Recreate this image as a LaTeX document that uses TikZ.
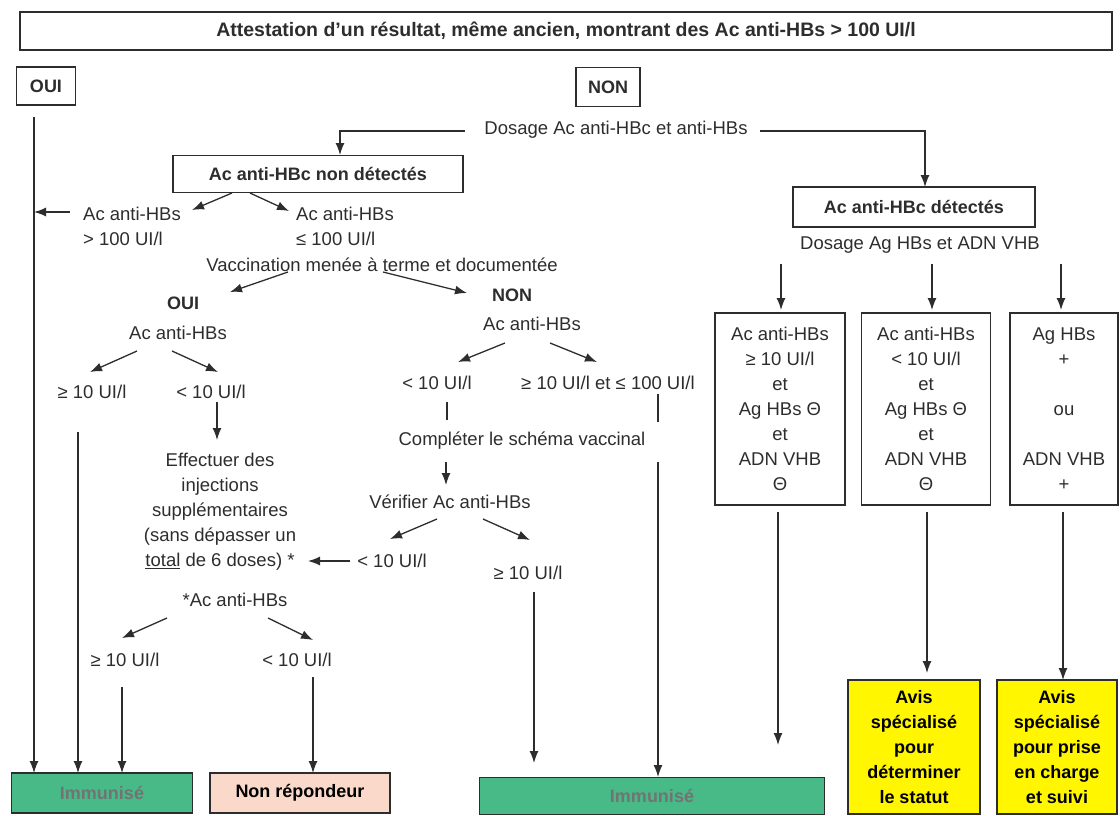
\documentclass[tikz,border=0pt]{standalone}
\usepackage{fontspec}
\setmainfont{Liberation Sans}
\usepackage{tikz}
\usetikzlibrary{shapes,arrows,arrows.meta}
\usetikzlibrary{positioning}
\usetikzlibrary{calc}

\definecolor{immgreen}{RGB}{72,186,136}
\definecolor{nrpink}{RGB}{250,216,202}
\definecolor{avisyellow}{RGB}{255,246,0}
\definecolor{ink}{RGB}{45,45,45}

\begin{document}
\begin{tikzpicture}[x=1pt,y=-1pt]
\tikzstyle{txt}=[font=\fontsize{18.5}{25}\selectfont, text=ink, align=center, inner sep=1pt];
\tikzstyle{btxt}=[txt, font=\fontsize{18}{25}\selectfont\bfseries];
\tikzstyle{box}=[draw=ink, line width=1.2pt, inner sep=2pt];
\tikzstyle{myarrow}=[line width=1.3pt, draw=ink, -{Latex[length=12pt,width=9pt]}];
\tikzstyle{myline}=[line width=1.3pt, draw=ink];

\useasboundingbox (0,0) rectangle (1120,815);

% top
\node[box, btxt, font=\fontsize{19.5}{25}\selectfont\bfseries, minimum width=1092, minimum height=38] (attest) at (566,31) {Attestation d’un résultat, même ancien, montrant des Ac anti-HBs > 100 UI/l};
\node[box, btxt, minimum width=59, minimum height=38] (oui) at (46,86) {OUI};
\node[box, btxt, minimum width=64, minimum height=39] (non) at (608,87) {NON};
\node[txt] (dosage) at (616,130) {Dosage Ac anti-HBc et anti-HBs};
\node[box, btxt, minimum width=290, minimum height=37] (nondet) at (318,174) {Ac anti-HBc non détectés};
\node[box, btxt, minimum width=242, minimum height=40] (det) at (914,207) {Ac anti-HBc détectés};
\node[txt] (dosage2) at (920,245) {Dosage Ag HBs et ADN VHB};

% Ac anti-HBc non detectes
\node[txt, align=left] (gtcent) at (132,226) {Ac anti-HBs\\> 100 UI/l};
\node[txt, align=left] (lecent) at (345,226) {Ac anti-HBs\\≤ 100 UI/l};
\node[txt] (vacc) at (382,265) {Vaccination menée à terme et documentée};

\node[btxt] (vaccoui) at (183,303) {OUI};
\node[txt] (acoui) at (178,333) {Ac anti-HBs};
\node[txt] (ouige) at (92,392) {≥ 10 UI/l};
\node[txt] (ouilt) at (211,392) {< 10 UI/l};
\node[txt] (inject) at (220,512) {Effectuer des\\injections\\supplémentaires\\(sans dépasser un\\\underline{total} de 6 doses) *};
\node[txt] (recheck) at (235,600) {*Ac anti-HBs};
\node[txt] (injge) at (125,660) {≥ 10 UI/l};
\node[txt] (injlt) at (297,660) {< 10 UI/l};

\node[btxt] (vaccnon) at (512,295) {NON};
\node[txt] (acnon) at (532,324) {Ac anti-HBs};
\node[txt] (nonlt) at (437,383) {< 10 UI/l};
\node[txt] (nonmid) at (608,383) {≥ 10 UI/l et ≤ 100 UI/l};
\node[txt] (complete) at (522,441) {Compléter le schéma vaccinal};
\node[txt] (verify) at (450,502) {Vérifier Ac anti-HBs};
\node[txt] (verlt) at (392,561) {< 10 UI/l};
\node[txt] (verge) at (528,573) {≥ 10 UI/l};

% Ac anti-HBc detectes
\node[box, txt, minimum width=130, minimum height=192] (infect1) at (780,409) {Ac anti-HBs\\≥ 10 UI/l\\et\\Ag HBs Θ\\et\\ADN VHB\\Θ};
\node[box, txt, minimum width=129, minimum height=192] (infect2) at (926,409) {Ac anti-HBs\\< 10 UI/l\\et\\Ag HBs Θ\\et\\ADN VHB\\Θ};
\node[box, txt, minimum width=108, minimum height=192] (infect3) at (1064,409) {Ag HBs\\+\\[25pt]ou\\[25pt]ADN VHB\\+};

% outcomes
\node[box, btxt, fill=immgreen, text=black!55, minimum width=181, minimum height=40] (immune1) at (102,793) {Immunisé};
\node[box, btxt, fill=nrpink, text=black, minimum width=180, minimum height=40] (nonresp) at (300,793) {Non répondeur};
\node[box, btxt, fill=immgreen, text=black!55, minimum width=345, minimum height=37] (immune2) at (652,796) {Immunisé};
\node[box, btxt, fill=avisyellow, text=black, minimum width=132, minimum height=134] (avis1) at (914,747) {Avis\\spécialisé\\pour\\déterminer\\le statut};
\node[box, btxt, fill=avisyellow, text=black, minimum width=120, minimum height=134] (avis2) at (1057,747) {Avis\\spécialisé\\pour prise\\en charge\\et suivi};

% arrows
\draw [myarrow] ($(dosage)+(-151,1)$) -| ($(nondet)+(22,-19)$);
\draw [myarrow] ($(dosage)+(144,1)$) -| ($(det)+(11,-20)$);
\draw [myarrow] ($(oui)+(-12,31)$) -- ($(immune1)+(-68,-20)$); % OUI
\draw [myarrow] ($(nondet)+(-86,19)$) -- ($(gtcent)+(60,-16)$);
\draw [myarrow] ($(nondet)+(-68,19)$) -- ($(lecent)+(-56,-15)$);
\draw [myarrow] ($(gtcent)+(-62,-14)$) -- ($(oui)+(-12,126)$);
\draw [myarrow] ($(vacc)+(-94,7)$) -- ($(vaccoui)+(47,-11)$);
\draw [myarrow] ($(vacc)+(1,7)$) -- ($(vaccnon)+(-45,-2)$);

\draw [myarrow] ($(acoui)+(-41,18)$) -- ($(ouige)+(-2,-20)$);
\draw [myarrow] ($(acoui)+(-6,18)$) -- ($(ouilt)+(7,-20)$);
\draw [myarrow] ($(ouilt)+(6,10)$) -- ($(inject)+(-3,-72)$);
\draw [myarrow] ($(ouige)+(-14,40)$) -- ($(immune1)+(-24,-20)$);
\draw [myarrow] ($(recheck)+(-68,18)$) -- ($(injge)+(-3,-22)$);
\draw [myarrow] ($(recheck)+(33,18)$) -- ($(injlt)+(16,-20)$);
\draw [myarrow] ($(injge)+(-3,27)$) -- ($(immune1)+(20,-20)$);
\draw [myarrow] ($(injlt)+(16,17)$) -- ($(nonresp)+(13,-20)$);

\draw [myarrow] ($(acnon)+(-27,19)$) -- ($(nonlt)+(21,-21)$);
\draw [myarrow] ($(acnon)+(18,19)$) -- ($(nonmid)+(-11,-21)$);
\draw [myline] ($(nonlt)+(10,19)$) -- ($(complete)+(-75,-21)$);
\draw [myarrow] ($(complete)+(-76,21)$) -- ($(verify)+(-4,-17)$);
\draw [myarrow] ($(verify)+(-13,17)$) -- ($(verlt)+(-2,-22)$);
\draw [myarrow] ($(verify)+(33,17)$) -- ($(verge)+(2,-33)$);
\draw [myarrow] ($(verlt)+(-42,0)$) -- ($(inject)+(88,49)$);
\draw [myarrow] ($(verge)+(6,19)$) -- ($(immune2)+(-118,-33)$);
\draw [myline] ($(nonmid)+(50,11)$) -- ($(nonmid)+(50,39)$);
\draw [myarrow] ($(nonmid)+(50,79)$) -- ($(immune2)+(6,-19)$);

\draw [myarrow] ($(dosage2)+(-139,19)$) -- ($(infect1)+(1,-99)$);
\draw [myarrow] ($(dosage2)+(12,19)$) -- ($(infect2)+(6,-99)$);
\draw [myarrow] ($(dosage2)+(141,19)$) -- ($(infect3)+(-3,-99)$);
\draw [myarrow] ($(infect1)+(-2,103)$) -- ($(immune2)+(126,-51)$);
\draw [myarrow] ($(infect2)+(1,103)$) -- ($(avis1)+(13,-74)$);
\draw [myarrow] ($(infect3)+(-1,103)$) -- ($(avis2)+(6,-67)$);

\end{tikzpicture}
\end{document}
